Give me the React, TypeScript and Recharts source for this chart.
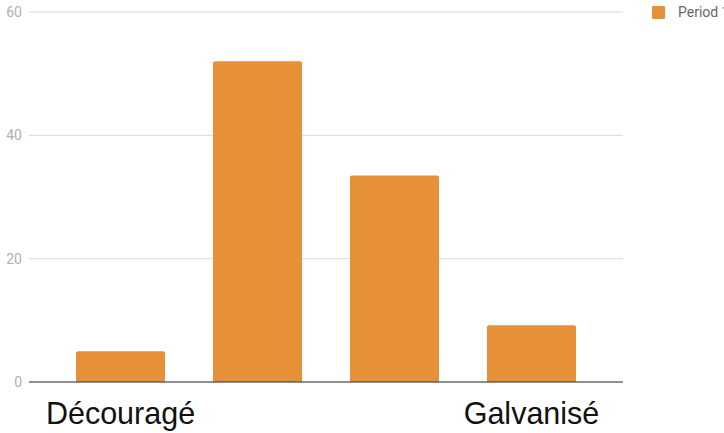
import React from "react"
import { BarChart, Bar, XAxis, YAxis, CartesianGrid } from "recharts"

const categories = ["Découragé", "", "", "Galvanisé"]
const period1 = [5, 52, 33.5, 9.2]
const yTicks = [0, 20, 40, 60]
const seriesName = "Period 1"

const data = categories.map((label, i) => ({ id: i, label, value: period1[i] }))

const ORANGE = "#e69138"

export default function App() {
  return (
    <div style={{ position: "absolute", left: 0, top: 0, width: 724, height: 433, overflow: "hidden", background: "#fff" }}>
      <BarChart width={724} height={433} data={data} margin={{ top: 12, right: 101, bottom: 0, left: 0 }}>
        <CartesianGrid vertical={false} stroke="#d9d9d9" />
        <XAxis
          dataKey="id"
          tickFormatter={(i: number) => categories[i]}
          tickLine={false}
          tickSize={0}
          tickMargin={20}
          height={51}
          padding={{ left: 23, right: 23 }}
          axisLine={{ stroke: "#333" }}
          tick={{ fill: "#111", fontSize: 30.5, fontFamily: "Liberation Sans, Arial, sans-serif" }}
          interval={0}
        />
        <YAxis
          width={29}
          domain={[0, 60]}
          ticks={yTicks}
          tickLine={false}
          tickSize={0}
          tickMargin={7}
          axisLine={false}
          tick={{ fill: "#b0b0b0", fontSize: 14, fontFamily: "Roboto, Arial, sans-serif" }}
        />
        <Bar dataKey="value" name={seriesName} fill={ORANGE} barSize={89} radius={[2, 2, 0, 0]} isAnimationActive={false} />
      </BarChart>
      {/* legend sits partly past the right edge, as in the original */}
      <div style={{ position: "absolute", left: 652, top: 6, display: "flex", alignItems: "center", fontFamily: "Roboto, Arial, sans-serif" }}>
        <div style={{ width: 13, height: 13, background: ORANGE, borderRadius: 1 }} />
        <span style={{ marginLeft: 13, fontSize: 14, lineHeight: "13px", color: "#666", whiteSpace: "nowrap" }}>{seriesName}</span>
      </div>
    </div>
  )
}
